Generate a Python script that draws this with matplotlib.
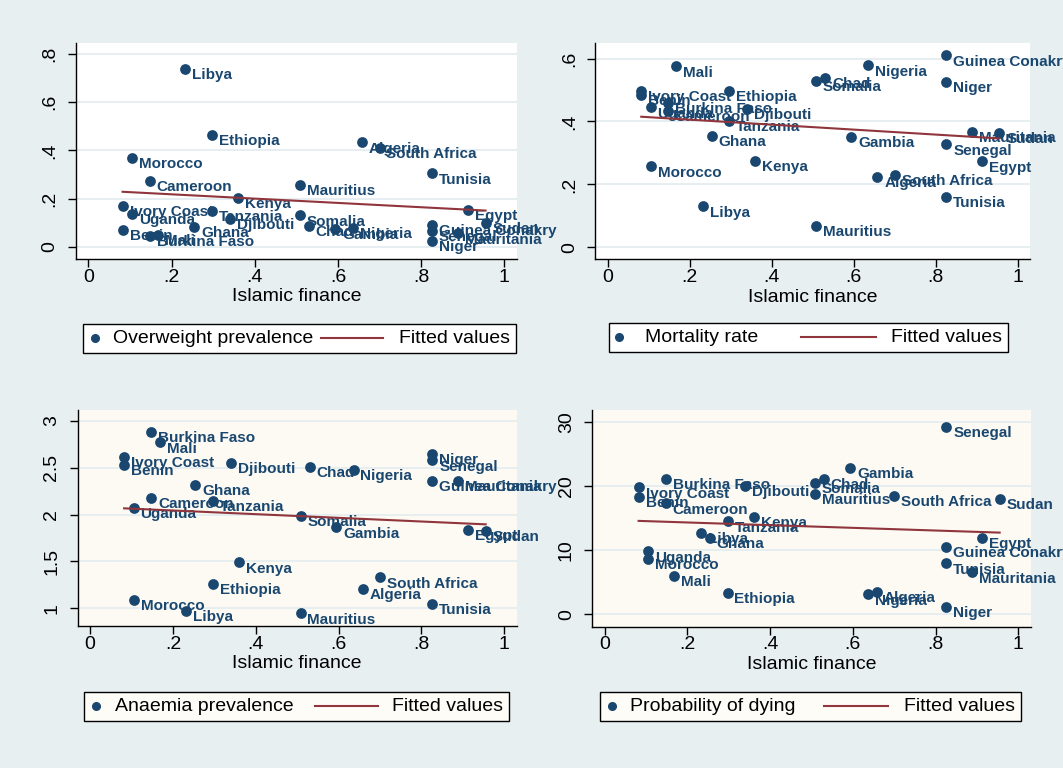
import numpy as np
import matplotlib
matplotlib.use("Agg")
import matplotlib.pyplot as plt
from matplotlib.lines import Line2D
from matplotlib.offsetbox import AnchoredOffsetbox, HPacker, DrawingArea, TextArea

plt.rcParams['font.family'] = ['Liberation Sans', 'DejaVu Sans']

# data
countries = ["Algeria", "Benin", "Burkina Faso", "Cameroon", "Chad", "Djibouti", "Egypt",
             "Ethiopia", "Gambia", "Ghana", "Guinea Conakry", "Ivory Coast", "Kenya", "Libya",
             "Mali", "Mauritania", "Mauritius", "Morocco", "Niger", "Nigeria", "Senegal",
             "Somalia", "South Africa", "Sudan", "Tanzania", "Tunisia", "Uganda"]
islamic_finance = [0.658, 0.082, 0.148, 0.147, 0.530, 0.340, 0.912,
                   0.297, 0.594, 0.254, 0.826, 0.082, 0.360, 0.232,
                   0.168, 0.889, 0.508, 0.105, 0.826, 0.636, 0.826,
                   0.508, 0.700, 0.955, 0.297, 0.826, 0.105]
overweight = [0.433, 0.071, 0.045, 0.272, 0.085, 0.115, 0.154,
              0.465, 0.075, 0.081, 0.090, 0.168, 0.202, 0.737,
              0.050, 0.055, 0.258, 0.370, 0.025, 0.078, 0.065,
              0.130, 0.410, 0.100, 0.148, 0.304, 0.137]
mortality = [0.223, 0.485, 0.460, 0.433, 0.539, 0.440, 0.273,
             0.496, 0.350, 0.353, 0.610, 0.497, 0.274, 0.130,
             0.575, 0.366, 0.067, 0.257, 0.525, 0.578, 0.327,
             0.528, 0.231, 0.363, 0.403, 0.160, 0.445]
anaemia = [1.205, 2.53, 2.885, 2.18, 2.51, 2.55, 1.84,
           1.26, 1.865, 2.32, 2.36, 2.62, 1.49, 0.97,
           2.77, 2.36, 0.947, 1.09, 2.65, 2.48, 2.58,
           1.985, 1.33, 1.83, 2.15, 1.05, 2.07]
prob_dying = [3.5, 18.3, 21.1, 17.3, 21.1, 20.0, 11.9,
              3.3, 22.8, 11.9, 10.55, 19.8, 15.25, 12.65,
              6.0, 6.55, 18.8, 8.65, 1.2, 3.1, 29.3,
              20.5, 18.5, 18.0, 14.5, 7.95, 9.8]

# fitted values at the ends of the x range
fit_overweight = [0.228, 0.150]
fit_mortality = [0.415, 0.346]
fit_anaemia = [2.067, 1.896]
fit_prob_dying = [14.58, 12.75]

NAVY = '#1a476f'
MAROON = '#90353b'
BG = '#e8eff1'
PX = 72 / 100  # points per pixel at dpi 100

fig = plt.figure(figsize=(10.63, 7.68), dpi=100, facecolor=BG)


def add_panel(rect, yvals, fit, ylim, yticks, yticklabels, face):
    ax = fig.add_axes(rect, facecolor=face)
    x = np.array(islamic_finance)
    ax.scatter(x, yvals, s=60, color=NAVY, lw=0, zorder=2)
    for name, xi, yi in zip(countries, x, yvals):
        ax.annotate(name, (xi, yi), xytext=(5, -4.5), textcoords='offset points',
                    fontsize=11, fontweight='bold', color=NAVY, va='center', ha='left',
                    zorder=2.5, annotation_clip=False, clip_on=False)
    ax.plot([x.min(), x.max()], fit, color=MAROON, lw=1.5, zorder=3)

    ax.set_xlim(-0.03, 1.03)
    ax.set_ylim(*ylim)
    ax.set_xticks([0, 0.2, 0.4, 0.6, 0.8, 1])
    ax.set_xticklabels(['0', '.2', '.4', '.6', '.8', '1'])
    ax.set_yticks(yticks)
    ax.set_yticklabels(yticklabels, rotation=90, va='center')
    ax.tick_params(length=5.5, width=1, labelsize=14)
    ax.tick_params(axis='x', pad=1.5)
    ax.tick_params(axis='y', pad=7)
    ax.set_xlabel('Islamic finance', fontsize=14, labelpad=2)
    ax.yaxis.grid(True, color='#e4edf0', lw=1.3)
    ax.set_axisbelow(True)
    for side in ['top', 'right']:
        ax.spines[side].set_visible(False)
    for side in ['left', 'bottom']:
        ax.spines[side].set_linewidth(1)
    return ax


def add_legend(label, left, top, dot_x, dot_w, gap1, line_len, gap2, face):
    da_dot = DrawingArea(dot_w * PX, 14 * PX)
    da_dot.add_artist(Line2D([dot_x * PX], [7 * PX], marker='o', ms=5.5, color=NAVY, ls='none'))
    t1 = TextArea(label, textprops=dict(size=14))
    da_line = DrawingArea((gap1 + line_len + gap2) * PX, 14 * PX)
    da_line.add_artist(Line2D([gap1 * PX, (gap1 + line_len) * PX], [7 * PX, 7 * PX],
                              color=MAROON, lw=1.5))
    t2 = TextArea('Fitted values', textprops=dict(size=14))
    pack = HPacker(children=[da_dot, t1, da_line, t2], align='center', pad=0, sep=0)
    box = AnchoredOffsetbox(loc='upper left', child=pack, pad=0.3, borderpad=0, frameon=True,
                            bbox_to_anchor=(left / 1063, 1 - top / 768),
                            bbox_transform=fig.transFigure, prop=dict(size=14))
    box.patch.set_edgecolor('black')
    box.patch.set_facecolor(face)
    box.patch.set_linewidth(1)
    fig.add_artist(box)


add_panel([0.0715, 0.6628, 0.4146, 0.2816], overweight, fit_overweight, (-0.051, 0.847),
          [0, 0.2, 0.4, 0.6, 0.8], ['0', '.2', '.4', '.6', '.8'], 'white')
add_panel([0.5600, 0.6624, 0.4090, 0.2819], mortality, fit_mortality, (-0.038, 0.65),
          [0, 0.2, 0.4, 0.6], ['0', '.2', '.4', '.6'], 'white')
add_panel([0.0731, 0.1849, 0.4130, 0.2813], anaemia, fit_anaemia, (0.811, 3.117),
          [1, 1.5, 2, 2.5, 3], ['1', '1.5', '2', '2.5', '3'], '#fcfaf3')
add_panel([0.5572, 0.1840, 0.4124, 0.2822], prob_dying, fit_prob_dying, (-1.94, 31.9),
          [0, 10, 20, 30], ['0', '10', '20', '30'], '#fcfaf3')

add_legend('Overweight prevalence', 83, 324, 6, 24, 8, 62, 16, 'white')
add_legend('Mortality rate', 609, 323, 4, 30, 43, 75, 15, 'white')
add_legend('Anaemia prevalence', 84, 692, 6, 25, 22, 63, 14, '#fdfcf7')
add_legend('Probability of dying', 600, 692, 6, 24, 29, 64, 16, '#fdfcf7')

fig.savefig('out.png', dpi=100, facecolor=fig.get_facecolor())
